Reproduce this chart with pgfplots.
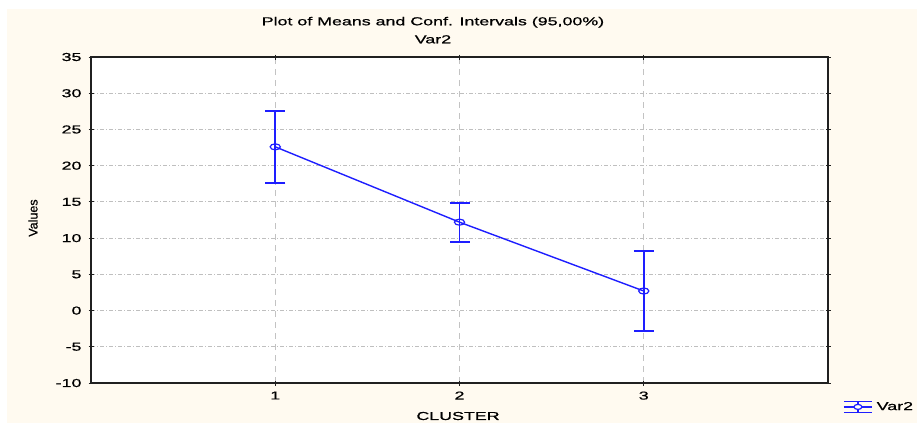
\documentclass[border=0pt]{standalone}
\usepackage{pgfplots}
\pgfplotsset{compat=1.18}
\usepackage{fontspec}
\setmainfont{Liberation Sans}[FakeStretch=1.55, FakeBold=0.8]
\newfontfamily\plainfont{Liberation Sans}[FakeBold=0.8]
\definecolor{cream}{HTML}{FFFAF0}
\definecolor{lineblue}{HTML}{1E1EFF}
\definecolor{gridgray}{HTML}{B4B4B4}
\definecolor{axisdark}{HTML}{202020}
\begin{document}
\fontsize{11.5}{13}\selectfont
\begin{tikzpicture}
\useasboundingbox (0pt,0pt) rectangle (917pt,-423pt);
\fill[white] (0pt,0pt) rectangle (917pt,-423pt);
\fill[cream] (7pt,-9pt) rectangle (917pt,-423pt);
\begin{axis}[
    at={(91pt,-383pt)}, anchor=south west,
    scale only axis,
    width=737pt, height=326pt,
    xmin=0, xmax=4,
    ymin=-10, ymax=35,
    xtick={1,2,3},
    ytick={-10,-5,0,5,10,15,20,25,30,35},
    axis background/.style={fill=white},
    axis line style={axisdark, line width=1.4pt},
    tick style={axisdark, line width=1pt},
    tick align=center,
    major tick length=5pt,
    xmajorgrids, ymajorgrids,
    x grid style={gridgray!80, line width=1.3pt, dash pattern=on 6pt off 5pt},
    y grid style={gridgray!85, line width=1pt, dash pattern=on 4pt off 2pt on 1pt off 2pt},
    /pgf/number format/assume math mode=true,
    tick label style={font=\fontsize{11.5}{13}\selectfont},
    yticklabel style={xshift=-3pt},
    xticklabel style={yshift=-2pt},
    title={Plot of Means and Conf. Intervals (95,00\%)\\Var2},
    title style={at={(rel axis cs:0.464,1.064)}, anchor=center, align=center,
        font=\fontsize{11.5}{18}\selectfont},
    xlabel={CLUSTER},
    xlabel style={at={(rel axis cs:0.498,0)}, anchor=center, yshift=-33pt},
    ylabel={\plainfont Values},
    ylabel style={at={(rel axis cs:-0.0787,0.506)}, anchor=center,
        font=\fontsize{12.5}{13}\selectfont},
    legend style={at={(axis cs:4.081,-13.3)}, anchor=west, draw=none, fill=none,
        inner sep=0pt, font=\fontsize{11.5}{13}\selectfont,
        nodes={inner xsep=4pt}},
    legend image code/.code={
        \draw[lineblue, line width=1.6pt] (0pt,5.5pt) -- (28pt,5.5pt);
        \draw[lineblue, line width=1.6pt] (0pt,-5.5pt) -- (28pt,-5.5pt);
        \draw[lineblue, line width=1.2pt] (0pt,0pt) -- (28pt,0pt);
        \draw[lineblue, line width=1.6pt] (14pt,-5.5pt) -- (14pt,5.5pt);
        \draw[lineblue, line width=1.2pt, fill=white] (14pt,0pt) ellipse (4pt and 2.5pt);
    },
]
\addplot[lineblue, line width=1.4pt, mark=o,
    mark options={solid, fill=white, xscale=1.7, yscale=1.0, line width=1.2pt}, mark size=3pt,
    error bars/.cd, y dir=both, y explicit,
    error bar style={line width=1.8pt, lineblue},
    error mark options={rotate=90, mark size=10pt, line width=1.8pt, lineblue}]
coordinates {
    (1, 22.6) +- (0, 5.0)
    (2, 12.2) +- (0, 2.7)
    (3, 2.7)  +- (0, 5.5)
};
\legend{Var2}
\end{axis}
\end{tikzpicture}
\end{document}
